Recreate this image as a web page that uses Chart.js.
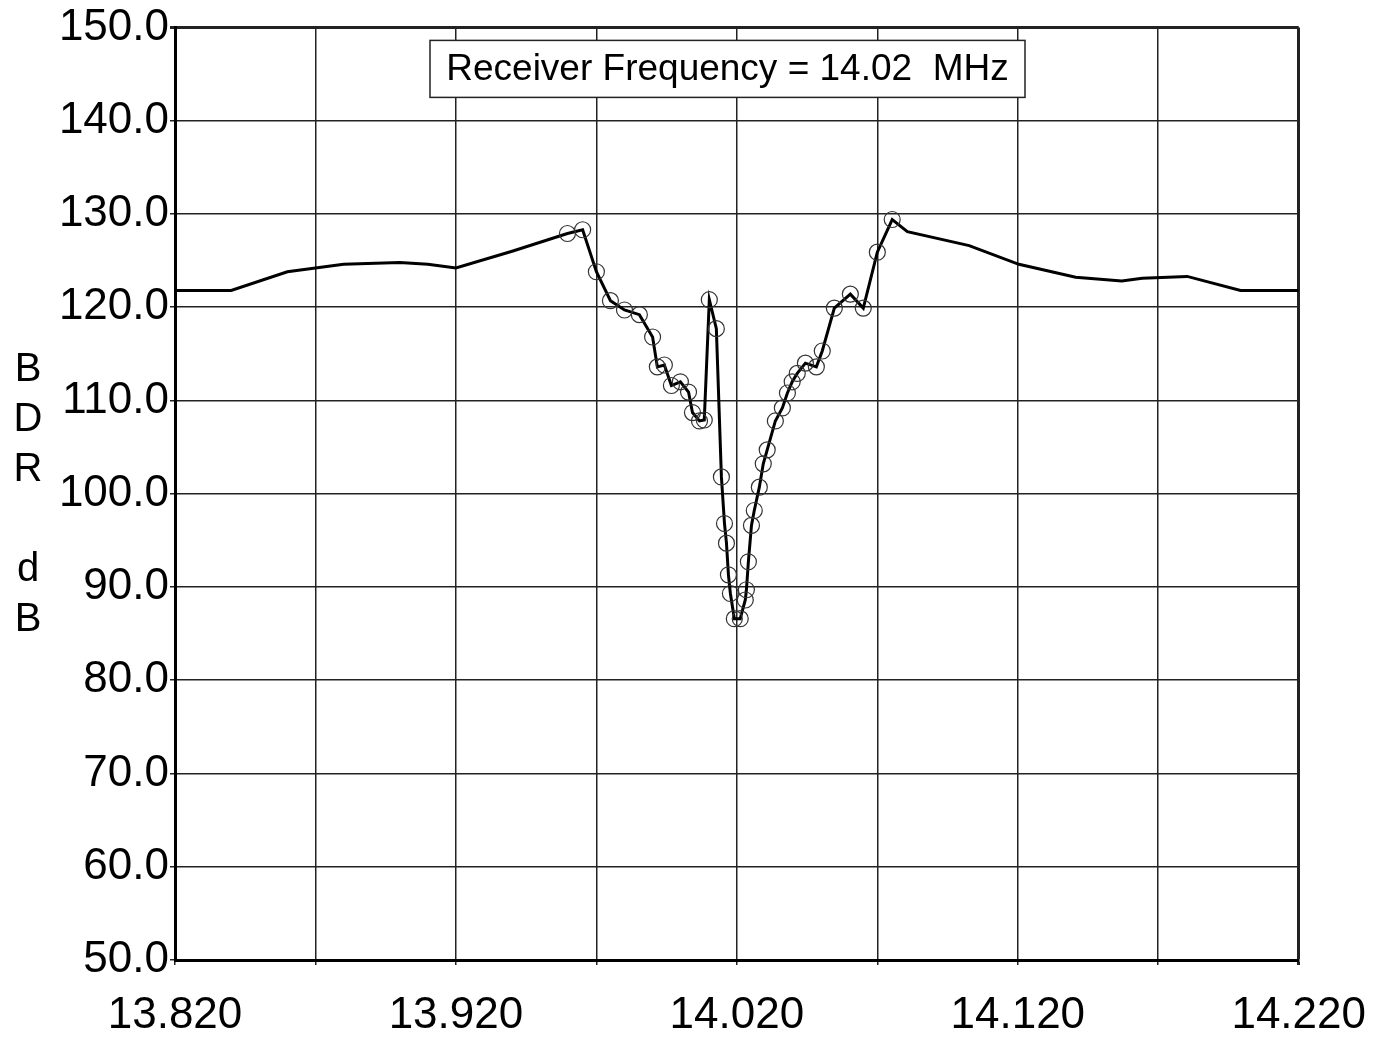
<!DOCTYPE html>
<html>
<head>
<meta charset="utf-8">
<title>BDR vs frequency</title>
<script src="https://cdn.jsdelivr.net/npm/chart.js@4"></script>
<style>
    html, body { margin: 0; padding: 0; background: #fff; }
    #wrap { width: 1390px; height: 1038px; }
</style>
</head>
<body>
<div id="wrap"><canvas id="bdrChart" width="1390" height="1038"></canvas></div>
<script>
// values (MHz, dB)
const freqMHz = [
    13.820, 13.840, 13.860, 13.880, 13.900, 13.910, 13.920, 13.940,
    13.9597, 13.9651, 13.9700, 13.9750, 13.9800, 13.9853, 13.9900,
    13.9917, 13.9942, 13.9967, 13.9999, 14.0028, 14.0042, 14.0067, 14.0084,
    14.0102, 14.0127, 14.0145, 14.0156, 14.0163, 14.0170, 14.0177, 14.0191,
    14.0212, 14.0230, 14.0234, 14.0241, 14.0252, 14.0262, 14.0280, 14.0294,
    14.0308, 14.0337, 14.0362, 14.0380, 14.0397, 14.0415, 14.0444, 14.0483,
    14.0504, 14.0547, 14.0604, 14.0650, 14.0700, 14.0753,
    14.0807, 14.1027, 14.1204, 14.1406, 14.1570, 14.1643, 14.1803, 14.1993, 14.2200,
];
const bdrDb = [
    121.8, 121.8, 123.8, 124.6, 124.8, 124.6, 124.2, 126.0,
    127.9, 128.3, 123.8, 120.7, 119.7, 119.2, 116.8,
    113.6, 113.8, 111.6, 112.0, 110.9, 108.7, 107.8, 107.9,
    120.8, 117.7, 101.8, 96.8, 94.7, 91.3, 89.3, 86.6,
    86.6, 88.6, 89.7, 92.7, 96.6, 98.2, 100.7, 103.2,
    104.7, 107.8, 109.2, 110.8, 112.0, 112.9, 114.0, 113.6,
    115.3, 119.9, 121.4, 119.9, 125.9, 129.4,
    128.1, 126.6, 124.6, 123.2, 122.8, 123.1, 123.3, 121.8, 121.8,
];
// vertical grid lines every 0.05 MHz, labelled every 0.1
const xGrid = [13.82, 13.87, 13.92, 13.97, 14.02, 14.07, 14.12, 14.17, 14.22];
const xLabels = ['13.820', '', '13.920', '', '14.020', '', '14.120', '', '14.220'];
const yTitle = ['B', 'D', 'R', '', 'd', 'B'];
const boxText = 'Receiver Frequency = 14.02  MHz';

const FONT = "'Liberation Sans', Arial, sans-serif";

// measured points carry circle markers, the interpolated wings don't
function isMeasured(x) { return x > 13.955 && x < 14.078; }

const extras = {
    id: 'extras',
    afterDraw(chart) {
        const ctx = chart.ctx;
        const a = chart.chartArea;
        ctx.save();
        // frequency box
        const bx = a.left + 255, by = a.top + 13, bw = 595, bh = 57;
        ctx.fillStyle = '#fff';
        ctx.fillRect(bx, by, bw, bh);
        ctx.strokeStyle = '#222';
        ctx.lineWidth = 1.5;
        ctx.strokeRect(bx, by, bw, bh);
        ctx.fillStyle = '#000';
        ctx.font = '37px ' + FONT;
        ctx.textAlign = 'center';
        ctx.textBaseline = 'middle';
        ctx.fillText(boxText, bx + bw / 2, by + bh / 2 + 1);
        // stacked y title
        ctx.font = '40px ' + FONT;
        yTitle.forEach((ch, i) => {
            if (ch) ctx.fillText(ch, 28, 370 + i * 50);
        });
        ctx.restore();
    }
};

new Chart(document.getElementById('bdrChart'), {
    type: 'line',
    data: {
        datasets: [{
            data: freqMHz.map((f, i) => ({ x: f, y: bdrDb[i] })),
            borderColor: '#000',
            borderWidth: 3,
            tension: 0,
            pointRadius: c => isMeasured(c.raw.x) ? 8 : 0,
            pointBorderColor: '#333',
            pointBorderWidth: 1.2,
            pointBackgroundColor: 'rgba(0,0,0,0)',
        }],
    },
    options: {
        responsive: false,
        animation: false,
        events: [],
        layout: { padding: { left: 0, right: 90, top: 27, bottom: 0 } },
        plugins: { legend: { display: false }, tooltip: { enabled: false } },
        scales: {
            x: {
                type: 'linear',
                min: 13.82,
                max: 14.22,
                afterBuildTicks: s => { s.ticks = xGrid.map(v => ({ value: v })); },
                afterFit: s => { s.height = 78; },
                ticks: {
                    autoSkip: false,
                    maxRotation: 0,
                    padding: 24,
                    color: '#000',
                    font: { family: FONT, size: 44 },
                    callback: (v, i) => xLabels[i],
                },
                grid: {
                    color: '#222',
                    lineWidth: c => (c.tick && c.tick.value === 14.22) ? 3 : 1.5,
                    tickLength: 5,
                },
                border: { color: '#000', width: 3 },
            },
            y: {
                min: 50,
                max: 150,
                afterFit: s => { s.width = 175; },
                ticks: {
                    stepSize: 10,
                    padding: 1,
                    color: '#000',
                    font: { family: FONT, size: 44 },
                    callback: v => v.toFixed(1),
                },
                grid: {
                    color: '#222',
                    lineWidth: c => (c.tick && c.tick.value === 150) ? 3 : 1.5,
                    tickLength: 5,
                },
                border: { color: '#000', width: 3 },
            },
        },
    },
    plugins: [extras],
});
</script>
</body>
</html>
